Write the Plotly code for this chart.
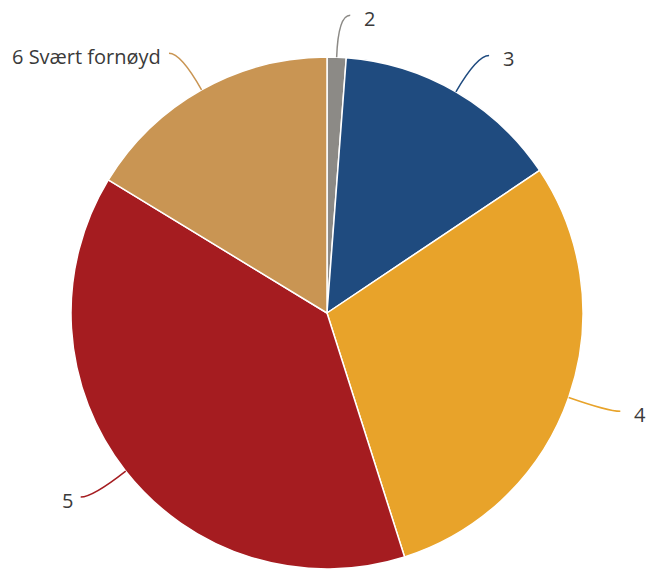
import math
import plotly.graph_objects as go

# ---- data ----
categories = ["2", "3", "4", "5", "6 Svært fornøyd"]
values = [1.2, 14.4, 29.5, 38.6, 16.3]
colors = ["#8c8a86", "#1f4b7f", "#e8a32a", "#a51c20", "#c99553"]

W, H = 646, 570
CX, CY = 327, 313          # pie centre in pixels (from top-left)
R = 256                    # pie radius in pixels

fig = go.Figure()

fig.add_trace(go.Pie(
    labels=categories,
    values=values,
    sort=False,
    direction="clockwise",
    rotation=0,
    textinfo="none",
    hoverinfo="label+percent",
    marker=dict(colors=colors, line=dict(color="white", width=1.5)),
    showlegend=False,
    domain=dict(x=[(CX - R) / W, (CX + R) / W],
                y=[(H - CY - R) / H, (H - CY + R) / H]),
))

# invisible overlay axes in pixel units centred on the pie
fig.update_layout(
    xaxis=dict(range=[-CX, W - CX], visible=False, fixedrange=True),
    yaxis=dict(range=[-(H - CY), CY], visible=False, fixedrange=True),
)

# leader lines + labels computed from the slice angles
total = sum(values)
cum = 0.0
shapes = []
annotations = []
D1 = 42   # elbow distance beyond the rim
HOR = 12  # horizontal run
for lab, v, col in zip(categories, values, colors):
    a0 = cum / total * 360
    cum += v
    a1 = cum / total * 360
    mid = math.radians((a0 + a1) / 2)
    s, c = math.sin(mid), math.cos(mid)
    x0, y0 = R * s, R * c
    bx, by = (R + D1) * s, (R + D1) * c
    side = 1 if s >= 0 else -1
    ex, ey = bx + side * HOR, by
    shapes.append(dict(
        type="path", xref="x", yref="y",
        path=f"M {x0:.2f},{y0:.2f} Q {bx:.2f},{by:.2f} {ex:.2f},{ey:.2f}",
        line=dict(color=col, width=1.5),
    ))
    gap = 12 if side > 0 else 6
    annotations.append(dict(
        x=ex + side * gap, y=ey - 3, xref="x", yref="y",
        text=lab, showarrow=False,
        xanchor="left" if side > 0 else "right", yanchor="middle",
        font=dict(family="Open Sans", size=20, color="#3a3a3a"),
    ))

fig.update_layout(
    width=W, height=H,
    margin=dict(l=0, r=0, t=0, b=0),
    paper_bgcolor="white",
    plot_bgcolor="rgba(0,0,0,0)",
    shapes=shapes,
    annotations=annotations,
    showlegend=False,
)

fig.write_html("out.html", config={"displayModeBar": False})

# remove the browser's default body margin so the figure sits at (0, 0)
with open("out.html", "r", encoding="utf-8") as f:
    html = f.read()
html = html.replace("<body>", '<body style="margin:0;overflow:hidden">', 1)
with open("out.html", "w", encoding="utf-8") as f:
    f.write(html)
